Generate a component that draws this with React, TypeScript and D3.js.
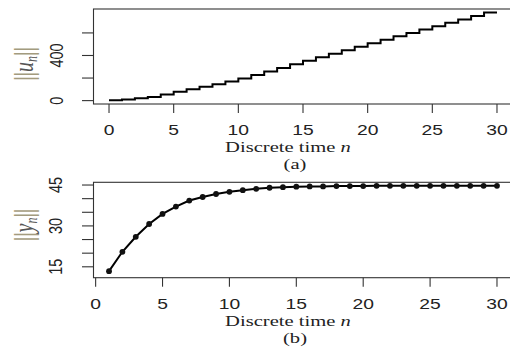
import React from "react";
import * as d3 from "d3";

// ||u_n||, step values for n = 0..30
const uSteps = [3, 10, 20, 33, 55, 78, 100, 123, 146, 170, 197, 228, 259, 290, 322, 353, 384, 416, 447, 478, 509, 540, 570, 600, 630, 660, 690, 720, 750, 781, 781];
// ||y_n||, n = 1..30
const yNorms = [13.4, 20.5, 26.0, 30.7, 34.4, 37.1, 39.3, 40.6, 41.7, 42.5, 43.1, 43.6, 44.0, 44.2, 44.4, 44.5, 44.5, 44.6, 44.6, 44.6, 44.7, 44.7, 44.7, 44.7, 44.7, 44.7, 44.7, 44.7, 44.7, 44.7];

const xTicks = [0, 5, 10, 15, 20, 25, 30];
const yTicksA = [0, 200, 400, 600];
const yLabelsA = [0, 400];
const yTicksB = [15, 20, 25, 30, 35, 40, 45];
const yLabelsB = [15, 30, 45];

const W = 510;
const H = 349;
const SX = 1.33; // the picture is stretched sideways
const LEFT = 93.5;
const RIGHT = 512.5;
const SANS = "'Liberation Sans', Arial, sans-serif";
const SERIF = "'Liberation Serif', 'Times New Roman', serif";
const BAR = "#a39b7e";

type FrameProps = {
  x: d3.ScaleLinear<number, number>;
  y: d3.ScaleLinear<number, number>;
  top: number;
  bottom: number;
  yTicks: number[];
  yLabels: number[];
  tickLabelY: number;
  yTickLabelX: number;
  titleY: number;
  letter: string;
  letterY: number;
  xTitleY: number;
  sym: string;
};

function Frame(p: FrameProps) {
  return (
    <g>
      <rect x={LEFT} y={p.top} width={RIGHT - LEFT} height={p.bottom - p.top} fill="none" stroke="#333" strokeWidth={1.1} />
      {xTicks.map((t) => (
        <g key={"x" + t}>
          <line x1={p.x(t)} x2={p.x(t)} y1={p.bottom} y2={p.bottom + 9} stroke="#333" strokeWidth={1.1} />
          <text
            transform={`translate(${p.x(t)},${p.tickLabelY}) scale(${SX},1)`}
            textAnchor="middle"
            fontFamily={SANS}
            fontSize={14.5}
            fill="#222"
          >
            {t}
          </text>
        </g>
      ))}
      {p.yTicks.map((t) => (
        <line key={"y" + t} x1={LEFT - 11.5} x2={LEFT} y1={p.y(t)} y2={p.y(t)} stroke="#333" strokeWidth={1.1} />
      ))}
      {p.yLabels.map((t) => (
        <text
          key={"yl" + t}
          transform={`translate(${p.yTickLabelX},${p.y(t)}) scale(${SX},1) rotate(-90)`}
          textAnchor="middle"
          fontFamily={SANS}
          fontSize={14.5}
          fill="#222"
        >
          {t}
        </text>
      ))}
      <text
        transform={`translate(33,${p.titleY}) scale(${SX},1) rotate(-90)`}
        textAnchor="middle"
        fontFamily={SERIF}
        fontSize={20}
      >
        <tspan fill={BAR} fontWeight="bold">||</tspan>
        <tspan fill="#555" fontStyle="italic">{p.sym}</tspan>
        <tspan fill="#555" fontStyle="italic" fontSize={12} dy={3}>n</tspan>
        <tspan fill={BAR} fontWeight="bold" dy={-3}>||</tspan>
      </text>
      <text
        transform={`translate(${288},${p.xTitleY}) scale(${SX},1)`}
        textAnchor="middle"
        fontFamily={SERIF}
        fontSize={15.5}
        fill="#222"
      >
        Discrete time <tspan fontStyle="italic">n</tspan>
      </text>
      <text
        transform={`translate(${295},${p.letterY}) scale(${SX},1)`}
        textAnchor="middle"
        fontFamily={SERIF}
        fontSize={15.5}
        fill="#222"
      >
        {p.letter}
      </text>
    </g>
  );
}

export default function App() {
  const xA = d3.scaleLinear().domain([-1.2, 31.2]).range([LEFT, RIGHT]);
  const yA = d3.scaleLinear().domain([-30, 812]).range([104, 9]);
  const xB = d3.scaleLinear().domain([-0.16, 31.16]).range([LEFT, RIGHT]);
  const yB = d3.scaleLinear().domain([11, 46]).range([277.7, 182.3]);

  const stepLine = d3
    .line<number>()
    .x((_, i) => xA(i))
    .y((d) => yA(d))
    .curve(d3.curveStepAfter);

  const yLine = d3
    .line<number>()
    .x((_, i) => xB(i + 1))
    .y((d) => yB(d));

  return (
    <svg width={W} height={H} style={{ position: "absolute", left: 0, top: 0, background: "#fff" }}>
      <Frame
        x={xA}
        y={yA}
        top={9}
        bottom={104}
        yTicks={yTicksA}
        yLabels={yLabelsA}
        tickLabelY={135}
        yTickLabelX={63}
        titleY={64}
        letter="(a)"
        letterY={169}
        xTitleY={152}
        sym="u"
      />
      <path d={stepLine(uSteps) ?? ""} fill="none" stroke="#000" strokeWidth={2} />

      <Frame
        x={xB}
        y={yB}
        top={182.3}
        bottom={277.7}
        yTicks={yTicksB}
        yLabels={yLabelsB}
        tickLabelY={309}
        yTickLabelX={62}
        titleY={225}
        letter="(b)"
        letterY={343}
        xTitleY={326}
        sym="y"
      />
      <path d={yLine(yNorms) ?? ""} fill="none" stroke="#000" strokeWidth={2} />
      {yNorms.map((d, i) => (
        <circle key={i} cx={xB(i + 1)} cy={yB(d)} r={2.9} fill="#111" />
      ))}
    </svg>
  );
}
